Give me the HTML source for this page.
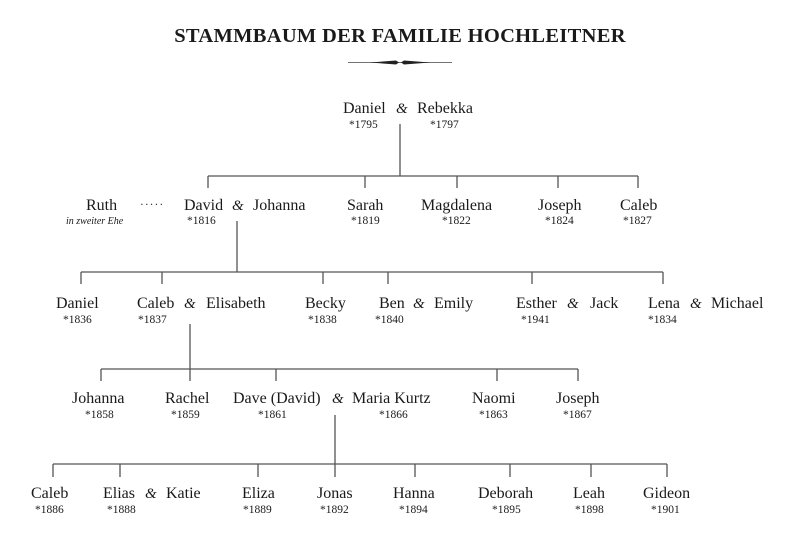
<!DOCTYPE html>
<html><head><meta charset="utf-8"><style>
html,body{margin:0;padding:0;background:#fff;}
svg{display:block;}
text{font-family:"Liberation Serif",serif;fill:#1a1a1a;}
.n{font-size:16px;}
.y{font-size:11.5px;}
.a{font-size:15px;font-style:italic;}
.i{font-size:10px;font-style:italic;}
.t{font-size:20.5px;font-weight:bold;letter-spacing:0.3px;}
line{stroke:#555;stroke-width:1.3;}
</style></head><body>
<svg width="810" height="551" viewBox="0 0 810 551">
<text class="t" x="400" y="42" text-anchor="middle">STAMMBAUM DER FAMILIE HOCHLEITNER</text>
<line x1="348" y1="62.5" x2="452" y2="62.5" style="stroke:#444;stroke-width:0.8"/>
<polygon points="370,62.5 396,60.5 399,62.5 396,64.5" fill="#222"/>
<polygon points="430,62.5 404,60.5 401,62.5 404,64.5" fill="#222"/>

<line x1="400" y1="124" x2="400" y2="176"/>
<line x1="208" y1="176" x2="638" y2="176"/>
<line x1="208" y1="176" x2="208" y2="188"/><line x1="365" y1="176" x2="365" y2="188"/><line x1="457" y1="176" x2="457" y2="188"/><line x1="558" y1="176" x2="558" y2="188"/><line x1="638" y1="176" x2="638" y2="188"/>

<line x1="237" y1="221" x2="237" y2="272"/>
<line x1="81" y1="272" x2="663" y2="272"/>
<line x1="81" y1="272" x2="81" y2="284"/><line x1="162" y1="272" x2="162" y2="284"/><line x1="323" y1="272" x2="323" y2="284"/><line x1="388" y1="272" x2="388" y2="284"/><line x1="532" y1="272" x2="532" y2="284"/><line x1="663" y1="272" x2="663" y2="284"/>

<line x1="190" y1="324" x2="190" y2="369"/>
<line x1="101" y1="369" x2="578" y2="369"/>
<line x1="101" y1="369" x2="101" y2="381"/><line x1="190" y1="369" x2="190" y2="381"/><line x1="276" y1="369" x2="276" y2="381"/><line x1="497" y1="369" x2="497" y2="381"/><line x1="578" y1="369" x2="578" y2="381"/>

<line x1="335" y1="415" x2="335" y2="464"/>
<line x1="53" y1="464" x2="667" y2="464"/>
<line x1="53" y1="464" x2="53" y2="477"/><line x1="120" y1="464" x2="120" y2="477"/><line x1="258" y1="464" x2="258" y2="477"/><line x1="335" y1="464" x2="335" y2="477"/><line x1="415" y1="464" x2="415" y2="477"/><line x1="510" y1="464" x2="510" y2="477"/><line x1="591" y1="464" x2="591" y2="477"/><line x1="667" y1="464" x2="667" y2="477"/>

<text class="n" x="343" y="113">Daniel</text><text class="a" x="396" y="113">&amp;</text><text class="n" x="417" y="113">Rebekka</text>
<text class="y" x="349" y="128">*1795</text><text class="y" x="430" y="128">*1797</text>

<text class="n" x="86" y="210">Ruth</text><text class="i" x="66" y="224">in zweiter Ehe</text>
<text class="y" x="140" y="208" style="letter-spacing:1px">·····</text>
<text class="n" x="184" y="210">David</text><text class="a" x="232" y="210">&amp;</text><text class="n" x="253" y="210">Johanna</text>
<text class="y" x="187" y="224">*1816</text>
<text class="n" x="347" y="210">Sarah</text><text class="y" x="351" y="224">*1819</text>
<text class="n" x="421" y="210">Magdalena</text><text class="y" x="442" y="224">*1822</text>
<text class="n" x="538" y="210">Joseph</text><text class="y" x="545" y="224">*1824</text>
<text class="n" x="620" y="210">Caleb</text><text class="y" x="623" y="224">*1827</text>

<text class="n" x="56" y="308">Daniel</text><text class="y" x="63" y="323">*1836</text>
<text class="n" x="137" y="308">Caleb</text><text class="a" x="184" y="308">&amp;</text><text class="n" x="206" y="308">Elisabeth</text><text class="y" x="138" y="323">*1837</text>
<text class="n" x="305" y="308">Becky</text><text class="y" x="308" y="323">*1838</text>
<text class="n" x="379" y="308">Ben</text><text class="a" x="413" y="308">&amp;</text><text class="n" x="434" y="308">Emily</text><text class="y" x="375" y="323">*1840</text>
<text class="n" x="516" y="308">Esther</text><text class="a" x="567" y="308">&amp;</text><text class="n" x="590" y="308">Jack</text><text class="y" x="521" y="323">*1941</text>
<text class="n" x="648" y="308">Lena</text><text class="a" x="690" y="308">&amp;</text><text class="n" x="711" y="308">Michael</text><text class="y" x="648" y="323">*1834</text>

<text class="n" x="72" y="403">Johanna</text><text class="y" x="85" y="418">*1858</text>
<text class="n" x="165" y="403">Rachel</text><text class="y" x="171" y="418">*1859</text>
<text class="n" x="233" y="403">Dave (David)</text><text class="a" x="332" y="403">&amp;</text><text class="n" x="352" y="403">Maria Kurtz</text>
<text class="y" x="258" y="418">*1861</text><text class="y" x="379" y="418">*1866</text>
<text class="n" x="472" y="403">Naomi</text><text class="y" x="479" y="418">*1863</text>
<text class="n" x="556" y="403">Joseph</text><text class="y" x="563" y="418">*1867</text>

<text class="n" x="31" y="498">Caleb</text><text class="y" x="35" y="513">*1886</text>
<text class="n" x="103" y="498">Elias</text><text class="a" x="145" y="498">&amp;</text><text class="n" x="166" y="498">Katie</text><text class="y" x="107" y="513">*1888</text>
<text class="n" x="242" y="498">Eliza</text><text class="y" x="243" y="513">*1889</text>
<text class="n" x="317" y="498">Jonas</text><text class="y" x="320" y="513">*1892</text>
<text class="n" x="393" y="498">Hanna</text><text class="y" x="399" y="513">*1894</text>
<text class="n" x="478" y="498">Deborah</text><text class="y" x="492" y="513">*1895</text>
<text class="n" x="573" y="498">Leah</text><text class="y" x="575" y="513">*1898</text>
<text class="n" x="643" y="498">Gideon</text><text class="y" x="651" y="513">*1901</text>
</svg>
</body></html>
